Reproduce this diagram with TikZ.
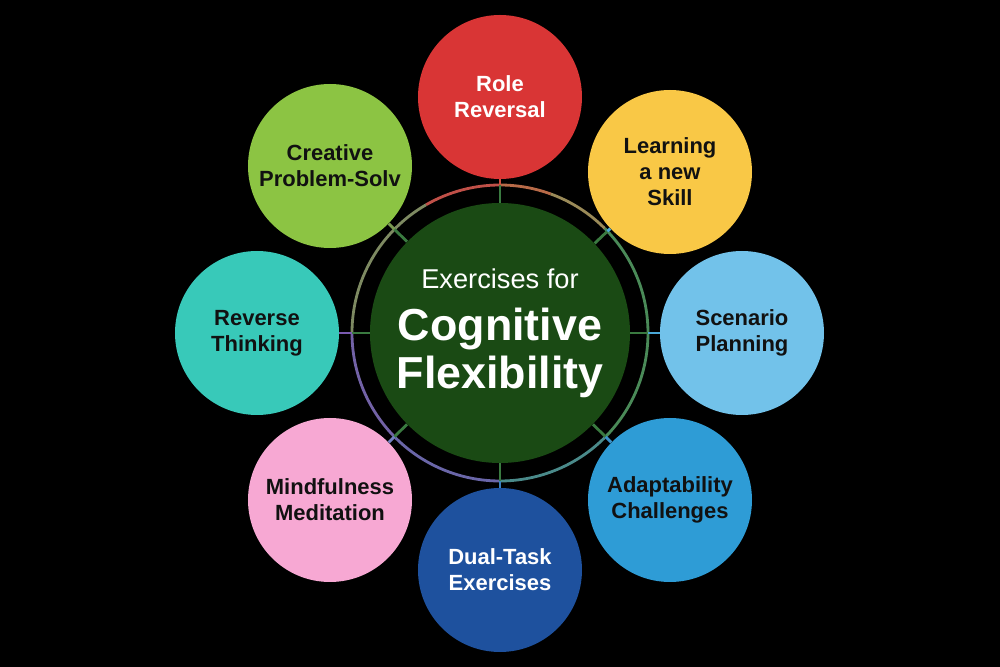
\documentclass[tikz,border=0pt]{standalone}
\usepackage{fontspec}
\setmainfont{Liberation Sans}
\usetikzlibrary{calc}

\definecolor{coregreen}{HTML}{1A4A14}
\definecolor{rolered}{HTML}{D93535}
\definecolor{skillyellow}{HTML}{F9C846}
\definecolor{scenarioblue}{HTML}{72C2EA}
\definecolor{adaptblue}{HTML}{2E9CD6}
\definecolor{dualblue}{HTML}{1E519E}
\definecolor{mindpink}{HTML}{F7A8D3}
\definecolor{reverseteal}{HTML}{38C9B9}
\definecolor{creativelime}{HTML}{8CC443}
\definecolor{inkdark}{HTML}{111111}
\definecolor{spokegreen}{HTML}{3A7A40}

\begin{document}
\begin{tikzpicture}[
		topic/.style={circle, minimum size=3.28cm, inner sep=0pt, align=center,
			font=\fontsize{12.5}{14.8}\selectfont\bfseries, text=inkdark},
		spoke/.style={line width=1.6pt},
		ringline/.style={line width=1.6pt}
	]
	\fill[black] (-10,-6.68) rectangle (10,6.66);

	% centre
	\node[circle, fill=coregreen, minimum size=5.2cm, inner sep=0pt, text=white, align=center,
		font=\fontsize{25.5}{27.2}\selectfont\bfseries] (core) at (0,0)
		{{\mdseries\fontsize{15.5}{18}\selectfont Exercises for}\\[2.3pt]Cognitive\\Flexibility};

	% satellites
	\node[topic, fill=rolered, text=white] (role) at (0,4.72) {Role\\Reversal};
	\node[topic, fill=skillyellow] (skill) at (3.40,3.22) {Learning\\a new\\Skill};
	\node[topic, fill=scenarioblue] (scenario) at (4.84,0) {Scenario\\Planning};
	\node[topic, fill=adaptblue] (adapt) at (3.40,-3.34) {Adaptability\\Challenges};
	\node[topic, fill=dualblue, text=white] (dualtask) at (0,-4.74) {Dual-Task\\Exercises};
	\node[topic, fill=mindpink] (mindful) at (-3.40,-3.34) {Mindfulness\\Meditation};
	\node[topic, fill=reverseteal] (reverse) at (-4.86,0) {Reverse\\Thinking};
	\node[topic, fill=creativelime] (creative) at (-3.40,3.34) {Creative\\Problem-Solv};

	% ring round the centre
	\foreach \from/\to/\col in {90/120/C05048, 120/180/7E8A62, 180/225/7262A6,
			225/270/6A66A8, 270/315/4A8A8A, 315/405/4A8A58, 405/430/9A8A58, 430/450/B86A48} {
		\definecolor{arccol}{HTML}{\col}
		\draw[ringline, arccol] (\from:2.96) arc[start angle=\from, end angle=\to, radius=2.96];
	}

	% spokes
	\foreach \sat/\col in {role/D05040, skill/4AA8D8, scenario/4AA8D8, adapt/3A90C8,
			dualtask/3A80C0, mindful/7080C0, reverse/7A5AB0, creative/7A9A50} {
		\coordinate (ring-\sat) at ($(core.center)!2.96cm!(\sat.center)$);
		\draw[spoke, spokegreen] (core) -- (ring-\sat);
		\definecolor{spokecol}{HTML}{\col}
		\draw[spoke, spokecol] (ring-\sat) -- (\sat);
	}
\end{tikzpicture}
\end{document}
